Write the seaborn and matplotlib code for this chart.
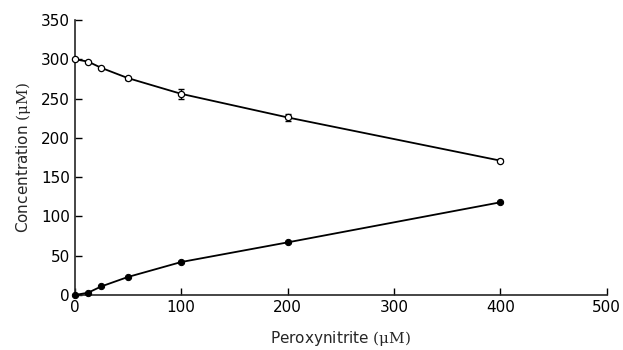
import numpy as np
import pandas as pd
import matplotlib
matplotlib.use("Agg")
import matplotlib.pyplot as plt
import seaborn as sns

# Peroxynitrite dose (uM)
peroxynitrite = [0, 12.5, 25, 50, 100, 200, 400]
# Open circles: remaining substrate
open_conc = [300, 297, 289, 276, 256, 226, 171]
open_err = [1, 1, 1, 2, 6, 4, 2]
# Filled circles: product formed
filled_conc = [0, 3, 11, 23, 42, 67, 118]
filled_err = [0, 0, 0, 0, 1, 1, 1]

df = pd.DataFrame({
    "x": peroxynitrite * 2,
    "y": open_conc + filled_conc,
    "err": open_err + filled_err,
    "series": ["open"] * len(peroxynitrite) + ["filled"] * len(peroxynitrite),
})

sns.set_style("ticks")
plt.rcParams["font.family"] = ["DejaVu Sans"]
plt.rcParams["mathtext.fontset"] = "dejavuserif"

fig = plt.figure(figsize=(6.23, 3.5), dpi=100)
ax = fig.add_axes([0.120, 0.157, 0.854, 0.786])

sns.lineplot(data=df[df.series == "open"], x="x", y="y", color="black", lw=1.3,
             marker="o", markersize=4.5, markerfacecolor="white",
             markeredgecolor="black", markeredgewidth=0.9, ax=ax, zorder=3)
sns.lineplot(data=df[df.series == "filled"], x="x", y="y", color="black", lw=1.3,
             marker="o", markersize=4.5, markerfacecolor="black",
             markeredgecolor="black", ax=ax, zorder=3)
sub = df[df.err > 0]
ax.errorbar(sub["x"], sub["y"], yerr=sub["err"], fmt="none", ecolor="black",
            elinewidth=1, capsize=2.5, zorder=2)

ax.set_xlim(0, 500)
ax.set_ylim(0, 350)
ax.set_xticks(range(0, 501, 100))
ax.set_yticks(range(0, 351, 50))
ax.tick_params(direction="in", length=5, width=1, labelsize=11, colors="black")
for s in ["top", "right"]:
    ax.spines[s].set_visible(False)
for s in ["left", "bottom"]:
    ax.spines[s].set_linewidth(1.2)
ax.set_xlabel("Peroxynitrite $\\mathrm{(\\mu M)}$", fontsize=11, labelpad=10)
ax.set_ylabel("Concentration $\\mathrm{(\\mu M)}$", fontsize=11, labelpad=6)
for line in ax.lines:
    line.set_clip_on(False)

fig.savefig("out.png", dpi=100)
